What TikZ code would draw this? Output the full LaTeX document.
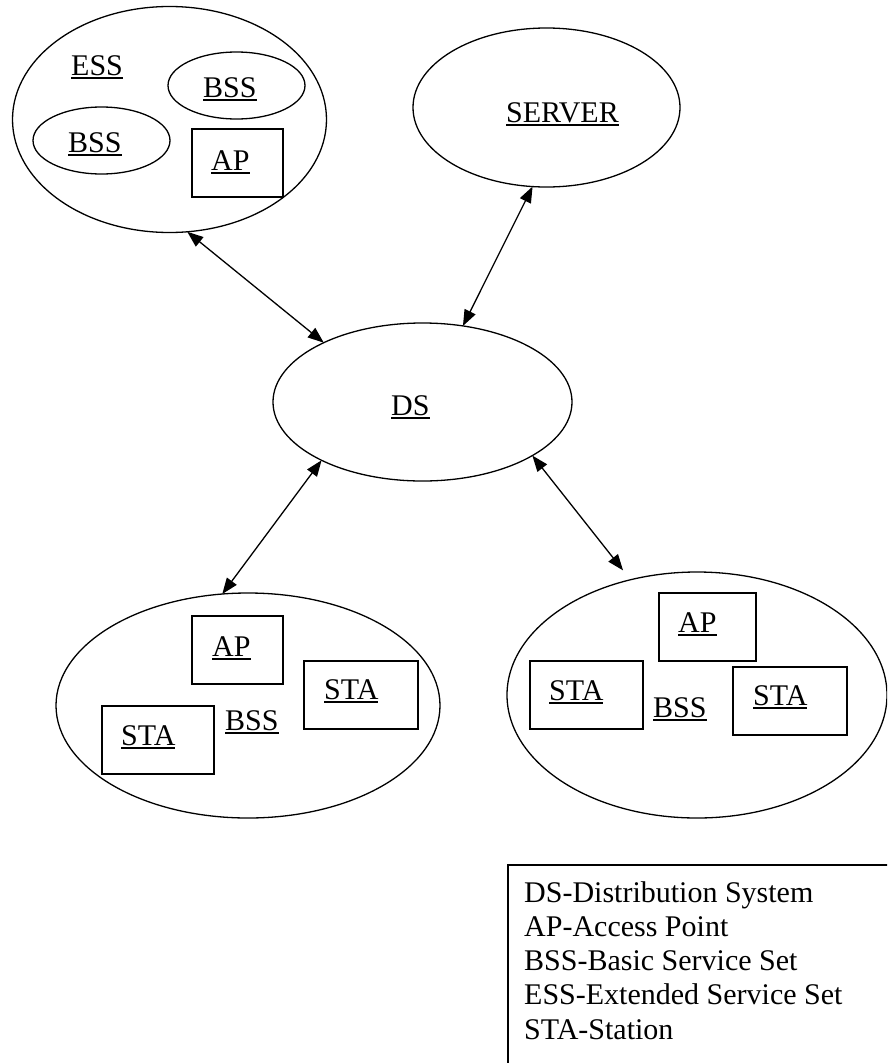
\documentclass[tikz,border=0pt]{standalone}
\usepackage{fontspec}
\setmainfont{Liberation Serif}
\usetikzlibrary{shapes.geometric,arrows.meta}
\newcommand\ulx[1]{\setbox0\hbox{#1}\rlap{\rule[-3.6pt]{\wd0}{1.4pt}}\box0}
\tikzset{
  oval/.style={draw, ellipse, line width=1.3pt, inner sep=0pt, outer sep=0pt},
  boxnode/.style={draw, rectangle, line width=1.4pt, inner sep=0pt, outer sep=0pt},
  lbl/.style={anchor=base west, inner sep=0pt, font=\fontsize{30}{34.3}\selectfont},
  link/.style={line width=1.3pt, {Triangle[length=16pt,width=12pt]}-{Triangle[length=16pt,width=12pt]}}
}
\begin{document}
\begin{tikzpicture}[x=1pt,y=-1pt]
\useasboundingbox (0,0) rectangle (887,1063);
\clip (0,0) rectangle (887,1063);
% ESS group
\node[oval, minimum width=314, minimum height=226] (ess) at (169.5,119.5) {};
\node[oval, minimum width=137, minimum height=67] (bssA) at (236.5,85.5) {};
\node[oval, minimum width=137, minimum height=67] (bssB) at (101.5,140.5) {};
\node[boxnode, minimum width=91, minimum height=68] (apE) at (237.5,163) {};
\node[lbl] (tESS) at (71,75) {\ulx{ESS}};
\node[lbl] (tBSSA) at (203,97) {\ulx{BSS}};
\node[lbl] (tBSSB) at (68,152) {\ulx{BSS}};
\node[lbl] (tAPE) at (211,170) {\ulx{AP}};
% SERVER
\node[oval, minimum width=267, minimum height=159] (srv) at (546.5,107.5) {};
\node[lbl] (tSRV) at (506,122) {\ulx{SERVER}};
% DS
\node[oval, minimum width=299, minimum height=158] (ds) at (422.5,402) {};
\node[lbl] (tDS) at (391,415) {\ulx{DS}};
% bottom-left BSS
\node[oval, minimum width=384, minimum height=225] (bl) at (248,705.5) {};
\node[boxnode, minimum width=91, minimum height=68] (apL) at (237.5,650) {};
\node[boxnode, minimum width=114, minimum height=68] (staL1) at (361,695) {};
\node[boxnode, minimum width=112, minimum height=68] (staL2) at (158,740) {};
\node[lbl] (tAPL) at (212,656) {\ulx{AP}};
\node[lbl] (tSTAL1) at (324,699) {\ulx{STA}};
\node[lbl] (tSTAL2) at (121,745) {\ulx{STA}};
\node[lbl] (tBSSL) at (225,730) {\ulx{BSS}};
% bottom-right BSS
\node[oval, minimum width=380, minimum height=246] (br) at (697,695) {};
\node[boxnode, minimum width=97, minimum height=68] (apR) at (707.5,627) {};
\node[boxnode, minimum width=113, minimum height=68] (staR1) at (586.5,695) {};
\node[boxnode, minimum width=114, minimum height=68] (staR2) at (790,701) {};
\node[lbl] (tAPR) at (678,632) {\ulx{AP}};
\node[lbl] (tSTAR1) at (549,700) {\ulx{STA}};
\node[lbl] (tSTAR2) at (753,705) {\ulx{STA}};
\node[lbl] (tBSSR) at (653,717) {\ulx{BSS}};
% connectors
\draw[link] (ess.-81) -- (ds.149);
\draw[link] (srv.-100) -- (ds.62);
\draw[link] (ds.210) -- (bl.103);
\draw[link, shorten >=12pt] (ds.-26) -- (br.120);
% legend
\node[boxnode, anchor=north west, minimum width=420, minimum height=240] (legend) at (508,865) {};
\node[lbl] (leg1) at (524,902) {DS-Distribution System};
\node[lbl] (leg2) at (524,936.3) {AP-Access Point};
\node[lbl] (leg3) at (524,970.6) {BSS-Basic Service Set};
\node[lbl] (leg4) at (524,1004.9) {ESS-Extended Service Set};
\node[lbl] (leg5) at (524,1039.2) {STA-Station};
\end{tikzpicture}
\end{document}
